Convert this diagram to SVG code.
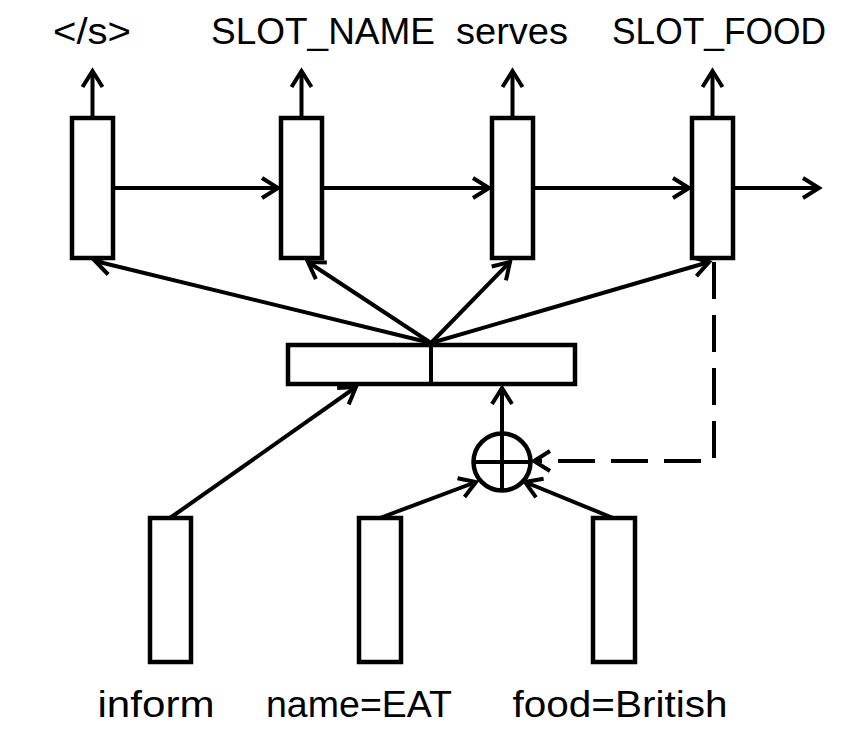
<svg xmlns="http://www.w3.org/2000/svg" width="848" height="742" viewBox="0 0 848 742">
<style>
.box{fill:#fff;stroke:#000;stroke-width:4.5}
.ln{fill:none;stroke:#000;stroke-width:4}
.lbl{font-family:"Liberation Sans",Arial,sans-serif;font-size:36px;fill:#000;text-anchor:middle}
</style>
<defs>
<marker id="ah" markerUnits="userSpaceOnUse" markerWidth="40" markerHeight="40" viewBox="-25 -20 40 40" refX="0" refY="0" orient="auto" overflow="visible">
<path d="M-16,-10 L0,0 L-16,10" fill="none" stroke="#000" stroke-width="4" stroke-linejoin="miter"/>
</marker>
</defs>
<rect width="848" height="742" fill="#fff"/>
<g id="connectors">
<line class="ln" x1="92.5" y1="118" x2="92.5" y2="71" marker-end="url(#ah)"/>
<line class="ln" x1="301.5" y1="118" x2="301.5" y2="71" marker-end="url(#ah)"/>
<line class="ln" x1="512.5" y1="118" x2="512.5" y2="71" marker-end="url(#ah)"/>
<line class="ln" x1="712.5" y1="118" x2="712.5" y2="71" marker-end="url(#ah)"/>
<line class="ln" x1="113" y1="188" x2="278" y2="188" marker-end="url(#ah)"/>
<line class="ln" x1="322" y1="188" x2="489" y2="188" marker-end="url(#ah)"/>
<line class="ln" x1="533" y1="188" x2="689" y2="188" marker-end="url(#ah)"/>
<line class="ln" x1="733" y1="188" x2="819" y2="188" marker-end="url(#ah)"/>
<line class="ln" x1="431" y1="343" x2="95" y2="261" marker-end="url(#ah)"/>
<line class="ln" x1="431" y1="343" x2="308" y2="262" marker-end="url(#ah)"/>
<line class="ln" x1="431" y1="343" x2="510" y2="262" marker-end="url(#ah)"/>
<line class="ln" x1="431" y1="343" x2="709" y2="262" marker-end="url(#ah)"/>
<line class="ln" x1="170" y1="518" x2="356" y2="387" marker-end="url(#ah)"/>
<line class="ln" x1="502" y1="433" x2="502" y2="388" marker-end="url(#ah)"/>
<line class="ln" x1="380" y1="518" x2="476" y2="482" marker-end="url(#ah)"/>
<line class="ln" x1="613" y1="518" x2="525" y2="482" marker-end="url(#ah)"/>
<path class="ln" d="M714,262 V461 H534" stroke-dasharray="37 16" marker-end="url(#ah)"/>
</g>
<g id="dec1"><rect class="box" x="72" y="118" width="41" height="140"/></g>
<g id="dec2"><rect class="box" x="281" y="118" width="41" height="140"/></g>
<g id="dec3"><rect class="box" x="492" y="118" width="41" height="140"/></g>
<g id="dec4"><rect class="box" x="692" y="118" width="41" height="140"/></g>
<g id="bar"><rect class="box" x="288" y="345" width="287" height="39"/><line class="ln" x1="431" y1="345" x2="431" y2="384"/></g>
<g id="plus"><circle class="box" cx="502" cy="462" r="28.5"/><line class="ln" x1="473.5" y1="462" x2="530.5" y2="462"/><line class="ln" x1="502" y1="433.5" x2="502" y2="490.5"/></g>
<g id="in1"><rect class="box" x="150" y="518" width="41" height="144"/></g>
<g id="in2"><rect class="box" x="359" y="518" width="42" height="144"/></g>
<g id="in3"><rect class="box" x="593" y="518" width="42" height="144"/></g>
<g id="labels">
<text class="lbl" x="92" y="44" textLength="78" lengthAdjust="spacingAndGlyphs">&lt;/s&gt;</text>
<text class="lbl" x="323" y="44" textLength="224" lengthAdjust="spacingAndGlyphs">SLOT_NAME</text>
<text class="lbl" x="512" y="44" textLength="112" lengthAdjust="spacingAndGlyphs">serves</text>
<text class="lbl" x="719" y="44" textLength="214" lengthAdjust="spacingAndGlyphs">SLOT_FOOD</text>
<text class="lbl" x="156" y="717" textLength="117" lengthAdjust="spacingAndGlyphs">inform</text>
<text class="lbl" x="359" y="717" textLength="186" lengthAdjust="spacingAndGlyphs">name=EAT</text>
<text class="lbl" x="620" y="717" textLength="215" lengthAdjust="spacingAndGlyphs">food=British</text>
</g>
</svg>
